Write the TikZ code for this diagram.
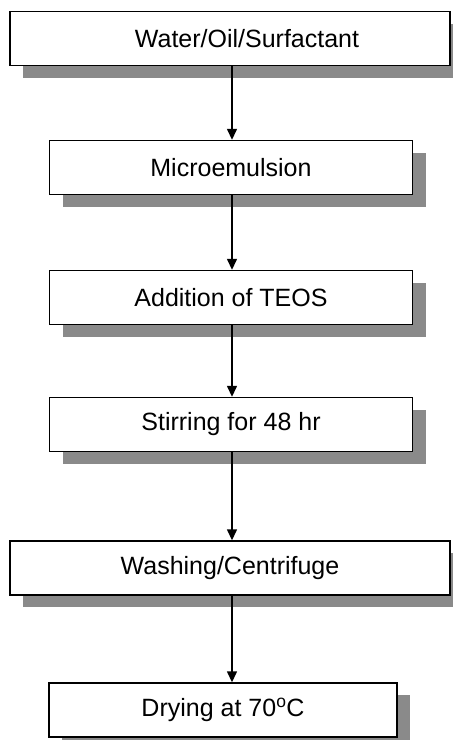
\documentclass[tikz,border=0pt]{standalone}
\usepackage{fontspec}
\setmainfont{Liberation Sans}
\usetikzlibrary{shadows,arrows.meta}
\definecolor{shadowgray}{HTML}{8A8A8A}

\begin{document}
\begin{tikzpicture}[x=1pt, y=-1pt,
    stepbox/.style={draw, line width=1.4pt, fill=white, minimum height=54pt,
      font=\fontsize{25}{30}\selectfont,
      drop shadow={shadow xshift=13pt, shadow yshift=-12pt, fill=shadowgray, opacity=1}},
    flow/.style={line width=1.4pt, -{Triangle[length=11pt,width=10pt]}}]
  \useasboundingbox (0,0) rectangle (453,740);

  \node[stepbox, minimum width=440pt] (mix) at (230,38.5) {\hspace*{34pt}Water/Oil/Surfactant};
  \node[stepbox, minimum width=363pt] (emul) at (231,167.5) {Microemulsion};
  \node[stepbox, minimum width=363pt] (teos) at (231,297.5) {Addition of TEOS};
  \node[stepbox, minimum width=363pt] (stir) at (231,424.5) {Stirring for 48 hr};
  \node[stepbox, minimum width=440pt] (wash) at (230,568) {Washing/Centrifuge};
  \node[stepbox, minimum width=348pt] (dry) at (223,710) {Drying at 70\textsuperscript{o}C};

  \coordinate (ax) at (232,0);
  \draw[flow] (mix.south -| ax) -- (emul.north -| ax);
  \draw[flow] (emul.south -| ax) -- (teos.north -| ax);
  \draw[flow] (teos.south -| ax) -- (stir.north -| ax);
  \draw[flow] (stir.south -| ax) -- (wash.north -| ax);
  \draw[flow] (wash.south -| ax) -- (dry.north -| ax);

\end{tikzpicture}
\end{document}
